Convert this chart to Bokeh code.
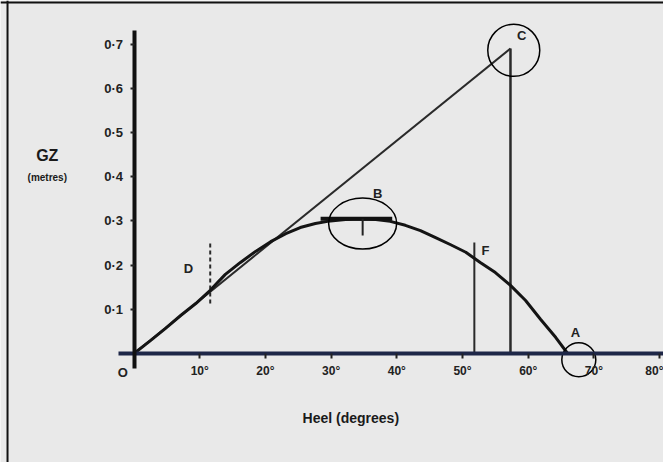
from bokeh.plotting import figure
from bokeh.models import Range1d, FixedTicker, Span, Label
from bokeh.embed import file_html
from bokeh.resources import INLINE

# ---- data ----
heel_deg = [0, 2.5, 4.8, 7.1, 9.4, 11.6, 13.9, 16.2, 18.5, 20.8, 23.1, 25.3, 27.6, 29.9,
            32.2, 34.5, 36.8, 39.0, 41.3, 43.6, 45.9, 48.2, 50.5, 52.7, 55.0, 57.3,
            59.6, 61.9, 64.2, 66.0]
gz_m = [0, 0.029, 0.057, 0.086, 0.113, 0.143, 0.179, 0.206, 0.231, 0.253, 0.271, 0.285,
        0.294, 0.300, 0.303, 0.304, 0.303, 0.299, 0.290, 0.278, 0.262, 0.246, 0.229,
        0.206, 0.183, 0.154, 0.120, 0.077, 0.036, 0]

one_radian_deg = 57.3
gm_m = 0.69                      # tangent value at one radian (point C)
tangent_x = [0, one_radian_deg]
tangent_y = [0, gm_m]

f_deg = 51.8                     # vertical line F
f_top = 0.251
d_deg = 11.6                     # dashed marker at D
d_span = [0.113, 0.249]
b_left, b_right, b_gz = 28.4, 39.3, 0.305   # max GZ bar at B
b_mid, b_tick_bottom = 34.8, 0.267

x_ticks = [10, 20, 30, 40, 50, 60, 70, 80]
x_tick_labels = ["10°", "20°", "30°", "40°", "50°", "60°", "70°", "80°"]
y_ticks = [0.1, 0.2, 0.3, 0.4, 0.5, 0.6, 0.7]
y_tick_labels = ["0·1", "0·2", "0·3", "0·4", "0·5", "0·6", "0·7"]

X0, X1 = -20.32, 80.59
Y0, Y1 = -0.2466, 0.7986
FONT = "Liberation Sans"

p = figure(width=663, height=462, x_range=Range1d(X0, X1), y_range=Range1d(Y0, Y1),
           output_backend="svg", toolbar_location=None, title=None, min_border=0)
p.background_fill_color = "#e9e9e9"
p.border_fill_color = "#e9e9e9"
p.outline_line_color = None
p.grid.visible = False

# axes through the origin
xa = p.xaxis[0]
xa.fixed_location = 0
xa.bounds = (-2.4, X1)
xa.ticker = FixedTicker(ticks=x_ticks)
xa.major_label_overrides = {t: s for t, s in zip(x_ticks, x_tick_labels)}
xa.axis_line_width = 4
xa.axis_line_color = "#1e2748"
xa.major_tick_in = 0
xa.major_tick_out = 5
xa.major_tick_line_color = "#222222"
xa.major_tick_line_width = 2
xa.minor_tick_line_color = None
xa.major_label_standoff = 6
xa.major_label_text_font = FONT
xa.major_label_text_font_size = "12px"
xa.major_label_text_font_style = "bold"
xa.major_label_text_color = "#222222"

ya = p.yaxis[0]
ya.fixed_location = 0
ya.bounds = (-0.034, 0.731)
ya.ticker = FixedTicker(ticks=y_ticks)
ya.major_label_overrides = {t: s for t, s in zip(y_ticks, y_tick_labels)}
ya.axis_line_width = 4
ya.axis_line_color = "#111111"
ya.major_tick_in = 0
ya.major_tick_out = 4
ya.major_tick_line_width = 2
ya.major_tick_line_color = "#222222"
ya.minor_tick_line_color = None
ya.major_label_standoff = 7
ya.major_label_text_font = FONT
ya.major_label_text_font_size = "13px"
ya.major_label_text_font_style = "bold"
ya.major_label_text_color = "#222222"

# borders of the scanned cell
p.add_layout(Span(location=0.794, dimension="width", line_color="#111111", line_width=2))
p.add_layout(Span(location=-19.25, dimension="height", line_color="#111111", line_width=2))

# tangent at origin up to one radian
p.line(tangent_x, tangent_y, line_color="#2a2a2a", line_width=2)
# verticals at C and F
p.segment(x0=[one_radian_deg, f_deg], y0=[0, 0], x1=[one_radian_deg, f_deg], y1=[gm_m, f_top],
          line_color="#2a2a2a", line_width=[2.5, 2])
# dashed D marker
p.segment(x0=[d_deg], y0=[d_span[0]], x1=[d_deg], y1=[d_span[1]],
          line_color="#2a2a2a", line_width=2, line_dash="4 3")
# GZ curve
p.line(heel_deg, gz_m, line_color="#141414", line_width=3)
# max GZ bar at B
p.segment(x0=[b_left], y0=[b_gz], x1=[b_right], y1=[b_gz], line_color="#111111", line_width=4)
p.segment(x0=[b_mid], y0=[b_gz], x1=[b_mid], y1=[b_tick_bottom], line_color="#222222", line_width=2)

# highlight circles
p.ellipse(x=[57.8, 34.8, 67.7], y=[0.686, 0.294, -0.014], width=[52, 68, 34], height=[52, 51, 34],
          width_units="screen", height_units="screen", fill_color=None,
          line_color="#000000", line_width=1.5)

# point letters
for txt, lx, ly in [("O", -1.7, -0.043), ("D", 8.3, 0.192), ("B", 37.1, 0.362),
                    ("F", 53.5, 0.233), ("C", 59.0, 0.719), ("A", 67.2, 0.048)]:
    p.add_layout(Label(x=lx, y=ly, text=txt, text_align="center", text_baseline="middle",
                       text_font=FONT, text_font_size="13px", text_font_style="bold",
                       text_color="#222222"))

# axis titles
p.add_layout(Label(x=33.0, y=-0.146, text="Heel (degrees)", text_align="center",
                   text_baseline="middle", text_font=FONT, text_font_size="14px",
                   text_font_style="bold", text_color="#1a1a1a"))
p.add_layout(Label(x=-13.2, y=0.448, text="GZ", text_align="center", text_baseline="middle",
                   text_font=FONT, text_font_size="16px", text_font_style="bold",
                   text_color="#1a1a1a"))
p.add_layout(Label(x=-13.2, y=0.398, text="(metres)", text_align="center", text_baseline="middle",
                   text_font=FONT, text_font_size="10px", text_font_style="bold",
                   text_color="#1a1a1a"))

open("out.html", "w").write(file_html(p, INLINE))
